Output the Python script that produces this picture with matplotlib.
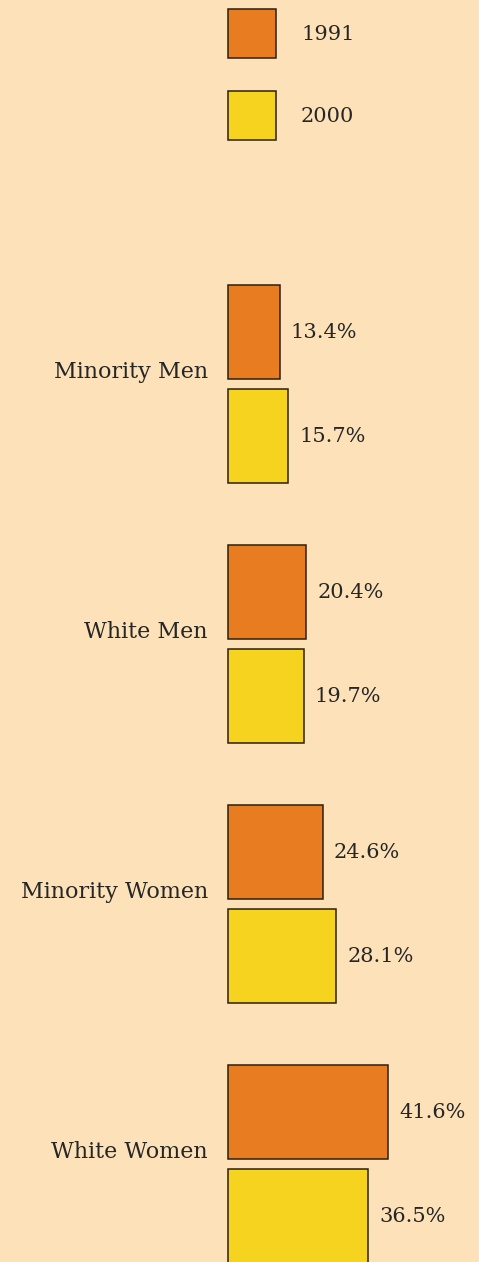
import matplotlib
matplotlib.use("Agg")
import matplotlib.pyplot as plt
from matplotlib.patches import Rectangle

# ---- data ----
categories = ["Minority Men", "White Men", "Minority Women", "White Women"]
years = ["1991", "2000"]
values_1991 = [13.4, 20.4, 24.6, 41.6]
values_2000 = [15.7, 19.7, 28.1, 36.5]

# ---- style / layout ----
BG = "#FCE1B9"
COLORS = ["#E87C20", "#F6D31E"]
EDGE = "#2b2010"
TEXT = "#262626"
FONT = "DejaVu Serif"
FS = 15
FS_CAT = 16

W, H = 479, 1262
PX_PER_UNIT = 3.846          # horizontal pixels per percentage point
X0 = 228                     # pixel x of zero
BAR_H = 94
GROUP_PITCH = 260
FIRST_CENTER = 332           # pixel y of first 1991 bar centre
PAIR_OFFSET = 104

fig = plt.figure(figsize=(W / 100, H / 100), dpi=100)
fig.patch.set_facecolor(BG)
ax = fig.add_axes([0, 0, 1, 1])
ax.set_facecolor(BG)
ax.set_xlim(-X0 / PX_PER_UNIT, (W - X0) / PX_PER_UNIT)
ax.set_ylim(H, 0)
ax.axis("off")

centers = [FIRST_CENTER + GROUP_PITCH * i for i in range(len(categories))]
y91 = centers
y00 = [c + PAIR_OFFSET for c in centers]

ax.barh(y91, values_1991, height=BAR_H, color=COLORS[0], edgecolor=EDGE, linewidth=1.1)
ax.barh(y00, values_2000, height=BAR_H, color=COLORS[1], edgecolor=EDGE, linewidth=1.1)

pad = 11 / PX_PER_UNIT
for yy, v in zip(y91, values_1991):
    ax.text(v + pad, yy, f"{v:.1f}%", va="center", ha="left", fontsize=FS, color=TEXT, family=FONT)
for yy, v in zip(y00, values_2000):
    ax.text(v + pad, yy, f"{v:.1f}%", va="center", ha="left", fontsize=FS, color=TEXT, family=FONT)

for c, name in zip(centers, categories):
    ax.text(-20 / PX_PER_UNIT, c + PAIR_OFFSET / 2 - 12, name, va="center", ha="right",
            fontsize=FS_CAT, color=TEXT, family=FONT)

# legend (manual, pixel layout)
leg_tops = [9, 91]
for top, col, lab in zip(leg_tops, COLORS, years):
    ax.add_patch(Rectangle((0, top), 48 / PX_PER_UNIT, 49, facecolor=col, edgecolor=EDGE, linewidth=1.1))
    ax.text((301 - X0) / PX_PER_UNIT, top + 25, lab, va="center", ha="left",
            fontsize=FS, color=TEXT, family=FONT)

fig.savefig("out.png", dpi=100, facecolor=BG)
